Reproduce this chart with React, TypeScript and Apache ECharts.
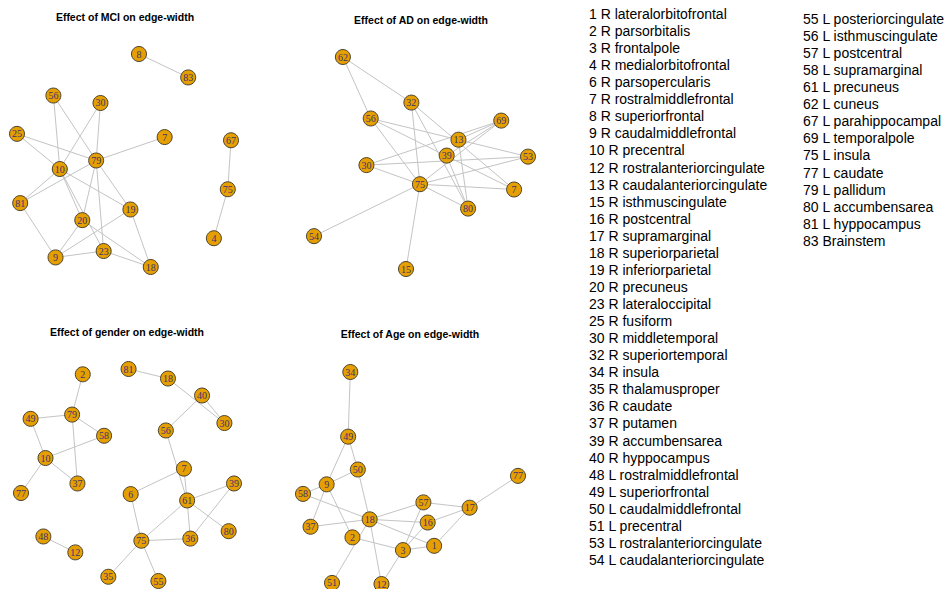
import React, { useEffect, useRef } from "react";
import * as echarts from "echarts";

// ---- Panel titles ----
const panelTitles = [
  "Effect of MCI on edge-width",
  "Effect of AD on edge-width",
  "Effect of gender on edge-width",
  "Effect of Age on edge-width",
];

// ---- Node layouts (normalized igraph layout, x and y in [-1, 1]) ----
const mciNodes: [string, number, number][] = [
  ["8", 0.14, 1.0], ["83", 0.6, 0.78], ["56", -0.66, 0.61], ["30", -0.22, 0.54],
  ["25", -1.0, 0.25], ["7", 0.38, 0.22], ["67", 1.0, 0.19], ["79", -0.26, 0.0],
  ["10", -0.6, -0.08], ["75", 0.97, -0.27], ["81", -0.97, -0.4], ["19", 0.06, -0.46],
  ["20", -0.39, -0.56], ["4", 0.84, -0.73], ["9", -0.64, -0.91], ["23", -0.19, -0.85],
  ["18", 0.25, -1.0],
];
const mciEdges: [string, string][] = [
  ["8", "83"], ["67", "75"], ["75", "4"], ["56", "10"], ["56", "79"], ["30", "10"],
  ["30", "79"], ["25", "79"], ["25", "10"], ["7", "79"], ["79", "81"], ["10", "81"],
  ["79", "20"], ["79", "23"], ["79", "19"], ["10", "19"], ["10", "20"], ["10", "23"],
  ["81", "9"], ["20", "9"], ["19", "9"], ["9", "23"], ["23", "18"], ["20", "18"], ["19", "18"],
];

const adNodes: [string, number, number][] = [
  ["62", -0.73, 1.0], ["32", -0.09, 0.57], ["56", -0.47, 0.42], ["69", 0.75, 0.4],
  ["13", 0.35, 0.22], ["39", 0.24, 0.07], ["53", 1.0, 0.06], ["30", -0.51, -0.02],
  ["75", -0.01, -0.2], ["7", 0.87, -0.25], ["80", 0.44, -0.43], ["54", -1.0, -0.69],
  ["15", -0.14, -1.0],
];
const adEdges: [string, string][] = [
  ["62", "32"], ["62", "56"], ["32", "75"], ["32", "80"], ["32", "7"], ["56", "53"],
  ["56", "7"], ["56", "75"], ["69", "13"], ["69", "39"], ["69", "75"], ["30", "69"],
  ["30", "53"], ["30", "75"], ["13", "80"], ["39", "80"], ["75", "53"], ["75", "7"],
  ["75", "80"], ["75", "54"], ["75", "15"],
];

const genderNodes: [string, number, number][] = [
  ["2", -0.42, 0.95], ["81", 0.01, 1.0], ["18", 0.38, 0.91], ["40", 0.7, 0.75],
  ["49", -0.91, 0.53], ["79", -0.52, 0.57], ["30", 0.91, 0.49], ["56", 0.36, 0.42],
  ["58", -0.22, 0.37], ["10", -0.77, 0.16], ["7", 0.53, 0.06], ["37", -0.47, -0.08],
  ["39", 1.0, -0.08], ["77", -1.0, -0.17], ["6", 0.03, -0.18], ["61", 0.56, -0.24],
  ["80", 0.95, -0.53], ["48", -0.79, -0.58], ["36", 0.59, -0.6], ["75", 0.13, -0.62],
  ["12", -0.49, -0.73], ["35", -0.18, -0.96], ["55", 0.29, -1.0],
];
const genderEdges: [string, string][] = [
  ["2", "79"], ["79", "49"], ["79", "58"], ["79", "37"], ["49", "10"], ["10", "58"],
  ["10", "37"], ["10", "77"], ["81", "18"], ["18", "30"], ["40", "30"], ["40", "56"],
  ["56", "61"], ["7", "61"], ["7", "6"], ["6", "75"], ["61", "75"], ["61", "39"],
  ["61", "80"], ["61", "36"], ["39", "36"], ["75", "36"], ["75", "35"], ["75", "55"],
  ["48", "12"],
];

const ageNodes: [string, number, number][] = [
  ["34", -0.56, 1.0], ["49", -0.58, 0.39], ["50", -0.49, 0.08], ["77", 1.0, 0.02],
  ["9", -0.78, -0.06], ["58", -1.0, -0.15], ["57", 0.12, -0.23], ["17", 0.55, -0.28],
  ["18", -0.38, -0.39], ["16", 0.16, -0.42], ["37", -0.93, -0.46], ["2", -0.54, -0.56],
  ["1", 0.22, -0.64], ["3", -0.07, -0.68], ["51", -0.73, -0.99], ["12", -0.27, -1.0],
];
const ageEdges: [string, string][] = [
  ["34", "49"], ["49", "9"], ["49", "50"], ["50", "18"], ["18", "12"], ["9", "50"],
  ["9", "58"], ["58", "18"], ["9", "37"], ["9", "2"], ["18", "57"], ["18", "16"],
  ["18", "37"], ["18", "1"], ["18", "51"], ["2", "3"], ["57", "3"], ["57", "17"],
  ["16", "17"], ["16", "3"], ["3", "1"], ["3", "12"], ["1", "17"], ["17", "77"],
];

// ---- Region legend ----
const legendCol1 = [
  "1 R lateralorbitofrontal", "2 R parsorbitalis", "3 R frontalpole", "4 R medialorbitofrontal",
  "6 R parsopercularis", "7 R rostralmiddlefrontal", "8 R superiorfrontal", "9 R caudalmiddlefrontal",
  "10 R precentral", "12 R rostralanteriorcingulate", "13 R caudalanteriorcingulate",
  "15 R isthmuscingulate", "16 R postcentral", "17 R supramarginal", "18 R superiorparietal",
  "19 R inferiorparietal", "20 R precuneus", "23 R lateraloccipital", "25 R fusiform",
  "30 R middletemporal", "32 R superiortemporal", "34 R insula", "35 R thalamusproper",
  "36 R caudate", "37 R putamen", "39 R accumbensarea", "40 R hyppocampus",
  "48 L rostralmiddlefrontal", "49 L superiorfrontal", "50 L caudalmiddlefrontal",
  "51 L precentral", "53 L rostralanteriorcingulate", "54 L caudalanteriorcingulate",
];
const legendCol2 = [
  "55 L posteriorcingulate", "56 L isthmuscingulate", "57 L postcentral", "58 L supramarginal",
  "61 L precuneus", "62 L cuneus", "67 L parahippocampal", "69 L temporalpole", "75 L insula",
  "77 L caudate", "79 L pallidum", "80 L accumbensarea", "81 L hyppocampus", "83 Brainstem",
];

const panels = [
  { nodes: mciNodes, edges: mciEdges, grid: { left: 17, top: 54, width: 214, height: 213 }, title: [125, 17] },
  { nodes: adNodes, edges: adEdges, grid: { left: 314, top: 57, width: 214, height: 212 }, title: [421, 20] },
  { nodes: genderNodes, edges: genderEdges, grid: { left: 21, top: 369, width: 213, height: 212 }, title: [127, 332] },
  { nodes: ageNodes, edges: ageEdges, grid: { left: 303, top: 372, width: 215, height: 212 }, title: [410, 334] },
];

export default function App() {
  const ref = useRef<HTMLDivElement>(null);
  useEffect(() => {
    if (!ref.current) return;
    const chart = echarts.init(ref.current, undefined, { renderer: "svg" });

    const grids = panels.map((p) => ({ ...p.grid, containLabel: false }));
    const xAxes = panels.map((_, i) => ({
      type: "value", gridIndex: i, min: -1, max: 1, show: false,
    }));
    const yAxes = panels.map((_, i) => ({
      type: "value", gridIndex: i, min: -1, max: 1, show: false,
    }));
    const series = panels.map((p, i) => ({
      type: "graph",
      coordinateSystem: "cartesian2d",
      xAxisIndex: i,
      yAxisIndex: i,
      symbol: "circle",
      symbolSize: 15,
      roam: false,
      silent: true,
      data: p.nodes.map(([name, x, y]) => ({ name, value: [x, y] })),
      links: p.edges.map(([source, target]) => ({ source, target })),
      itemStyle: { color: "#E69F00", borderColor: "#4a4230", borderWidth: 1 },
      label: {
        show: true,
        position: "inside",
        color: "#3d3270",
        fontFamily: "Liberation Serif",
        fontSize: 10,
      },
      lineStyle: { color: "#c4c4c4", width: 1, opacity: 1, curveness: 0 },
      emphasis: { disabled: true },
    }));

    const graphic: any[] = [];
    panels.forEach((p, i) => {
      graphic.push({
        type: "text",
        x: p.title[0],
        y: p.title[1],
        style: {
          text: panelTitles[i],
          textAlign: "center",
          textVerticalAlign: "middle",
          fill: "#000",
          font: "bold 10.5px 'Liberation Sans', Arial, sans-serif",
        },
      });
    });
    legendCol1.forEach((t, i) => {
      graphic.push({
        type: "text",
        x: 589,
        y: 14 + i * 17.06,
        style: {
          text: t,
          textVerticalAlign: "middle",
          fill: "#000",
          font: "14px 'Liberation Sans', Arial, sans-serif",
        },
      });
    });
    legendCol2.forEach((t, i) => {
      graphic.push({
        type: "text",
        x: 803,
        y: 19 + i * 17.06,
        style: {
          text: t,
          textVerticalAlign: "middle",
          fill: "#000",
          font: "14px 'Liberation Sans', Arial, sans-serif",
        },
      });
    });

    chart.setOption({
      animation: false,
      backgroundColor: "#ffffff",
      grid: grids,
      xAxis: xAxes,
      yAxis: yAxes,
      series,
      graphic,
    } as any);
    return () => chart.dispose();
  }, []);
  return (
    <div
      ref={ref}
      style={{ position: "fixed", left: 0, top: 0, width: 946, height: 589, background: "#fff" }}
    />
  );
}
